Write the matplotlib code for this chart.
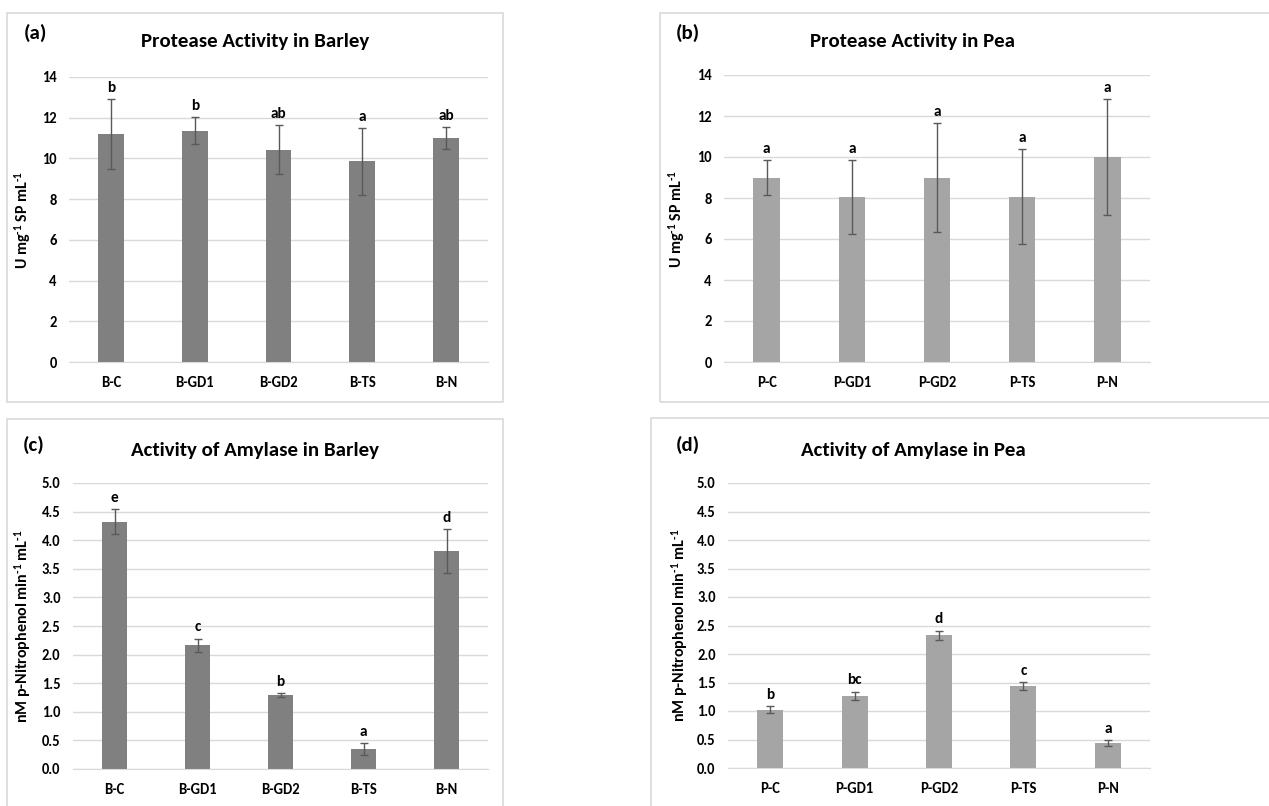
import matplotlib
matplotlib.use("Agg")
import matplotlib.pyplot as plt
from matplotlib.patches import Rectangle

plt.rcParams['font.family'] = ['Carlito', 'Lato', 'DejaVu Sans']
plt.rcParams['font.weight'] = 'bold'
plt.rcParams['mathtext.fontset'] = 'custom'
plt.rcParams['mathtext.rm'] = 'Carlito:bold'
plt.rcParams['mathtext.it'] = 'Carlito:bold'
plt.rcParams['mathtext.bf'] = 'Carlito:bold'

# data
barley_cats = ["B-C", "B-GD1", "B-GD2", "B-TS", "B-N"]
pea_cats = ["P-C", "P-GD1", "P-GD2", "P-TS", "P-N"]

protease_barley = [11.2, 11.37, 10.42, 9.85, 11.0]
protease_barley_err = [1.7, 0.65, 1.2, 1.65, 0.52]
protease_barley_letters = ["b", "b", "ab", "a", "ab"]

protease_pea = [9.0, 8.05, 9.0, 8.07, 10.0]
protease_pea_err = [0.83, 1.8, 2.67, 2.3, 2.82]
protease_pea_letters = ["a", "a", "a", "a", "a"]

amylase_barley = [4.32, 2.16, 1.29, 0.35, 3.81]
amylase_barley_err = [0.22, 0.12, 0.03, 0.11, 0.39]
amylase_barley_letters = ["e", "c", "b", "a", "d"]

amylase_pea = [1.02, 1.27, 2.33, 1.44, 0.44]
amylase_pea_err = [0.06, 0.07, 0.08, 0.07, 0.05]
amylase_pea_letters = ["b", "bc", "d", "c", "a"]

protease_ticks = [0, 2, 4, 6, 8, 10, 12, 14]
amylase_ticks = [0.0, 0.5, 1.0, 1.5, 2.0, 2.5, 3.0, 3.5, 4.0, 4.5, 5.0]

BARLEY_COLOR = "#808080"
PEA_COLOR = "#a5a5a5"
GRID_COLOR = "#d9d9d9"
ERR_COLOR = "#595959"

W, H = 1269, 806
fig = plt.figure(figsize=(W / 100, H / 100), dpi=100)


def px_box(x0, y0, x1, y1):
    """Convert a pixel box (top-left origin) into figure fraction [l, b, w, h]"""
    return [x0 / W, 1 - y1 / H, (x1 - x0) / W, (y1 - y0) / H]


# panel frames
for box in [(7, 13, 503, 402), (660, 13, 1290, 402), (7, 419, 503, 830), (651, 418, 1290, 830)]:
    l, b, w, h = px_box(*box)
    fig.add_artist(Rectangle((l, b), w, h, transform=fig.transFigure,
                             fill=False, edgecolor=GRID_COLOR, linewidth=1.2, clip_on=False))


def draw_panel(box, cats, vals, errs, letters, color, ticks, ticklabels, ylabel, ylabel_x,
               label, label_xy, title, title_xy):
    ax = fig.add_axes(px_box(*box))
    x = range(len(cats))
    ax.bar(x, vals, width=0.31, color=color, zorder=2)
    ax.errorbar(x, vals, yerr=errs, fmt='none', ecolor=ERR_COLOR, elinewidth=1,
                capsize=2.6, capthick=1, zorder=3)
    for xi, v, e, t in zip(x, vals, errs, letters):
        ax.annotate(t, (xi, v + e), xytext=(0, 3), textcoords='offset points',
                    ha='center', va='bottom', fontsize=11, fontweight='bold')
    ax.set_xlim(-0.5, len(cats) - 0.5)
    ax.set_ylim(ticks[0], ticks[-1])
    ax.set_yticks(ticks)
    ax.set_yticklabels(ticklabels, fontsize=10.5, fontweight='bold')
    ax.set_xticks(list(x))
    ax.set_xticklabels(cats, fontsize=10.5, fontweight='bold')
    ax.tick_params(axis='both', length=0)
    ax.tick_params(axis='y', pad=9)
    ax.tick_params(axis='x', pad=10)
    ax.yaxis.grid(True, color=GRID_COLOR, linewidth=1, zorder=0)
    ax.set_axisbelow(True)
    for side in ['top', 'right', 'left']:
        ax.spines[side].set_visible(False)
    ax.spines['bottom'].set_color(GRID_COLOR)
    ax.set_ylabel(ylabel, fontsize=11.5, fontweight='bold')
    ax.yaxis.set_label_coords(ylabel_x, 0.5)
    fig.text(label_xy[0] / W, 1 - label_xy[1] / H, label, fontsize=15, fontweight='bold',
             ha='left', va='center')
    fig.text(title_xy[0] / W, 1 - title_xy[1] / H, title, fontsize=15, fontweight='bold',
             ha='center', va='center')
    return ax


prot_labels = [str(t) for t in protease_ticks]
amyl_labels = ["%.1f" % t for t in amylase_ticks]
prot_ylabel = r"U mg$^{\text{-1}}$ SP mL$^{\text{-1}}$"
amyl_ylabel = r"nM p-Nitrophenol min$^{\text{-1}}$ mL$^{\text{-1}}$"

draw_panel((69, 77, 488, 362), barley_cats, protease_barley, protease_barley_err,
           protease_barley_letters, BARLEY_COLOR, protease_ticks, prot_labels,
           prot_ylabel, -0.086, "(a)", (24, 33), "Protease Activity in Barley", (255, 42))
draw_panel((724, 75, 1150, 362), pea_cats, protease_pea, protease_pea_err,
           protease_pea_letters, PEA_COLOR, protease_ticks, prot_labels,
           prot_ylabel, -0.087, "(b)", (676, 33), "Protease Activity in Pea", (913, 42))
draw_panel((73, 483, 488, 769), barley_cats, amylase_barley, amylase_barley_err,
           amylase_barley_letters, BARLEY_COLOR, amylase_ticks, amyl_labels,
           amyl_ylabel, -0.096, "(c)", (23, 445), "Activity of Amylase in Barley", (255, 450))
draw_panel((728, 483, 1150, 768), pea_cats, amylase_pea, amylase_pea_err,
           amylase_pea_letters, PEA_COLOR, amylase_ticks, amyl_labels,
           amyl_ylabel, -0.09, "(d)", (676, 445), "Activity of Amylase in Pea", (913, 450))

fig.savefig("out.png", dpi=100)
